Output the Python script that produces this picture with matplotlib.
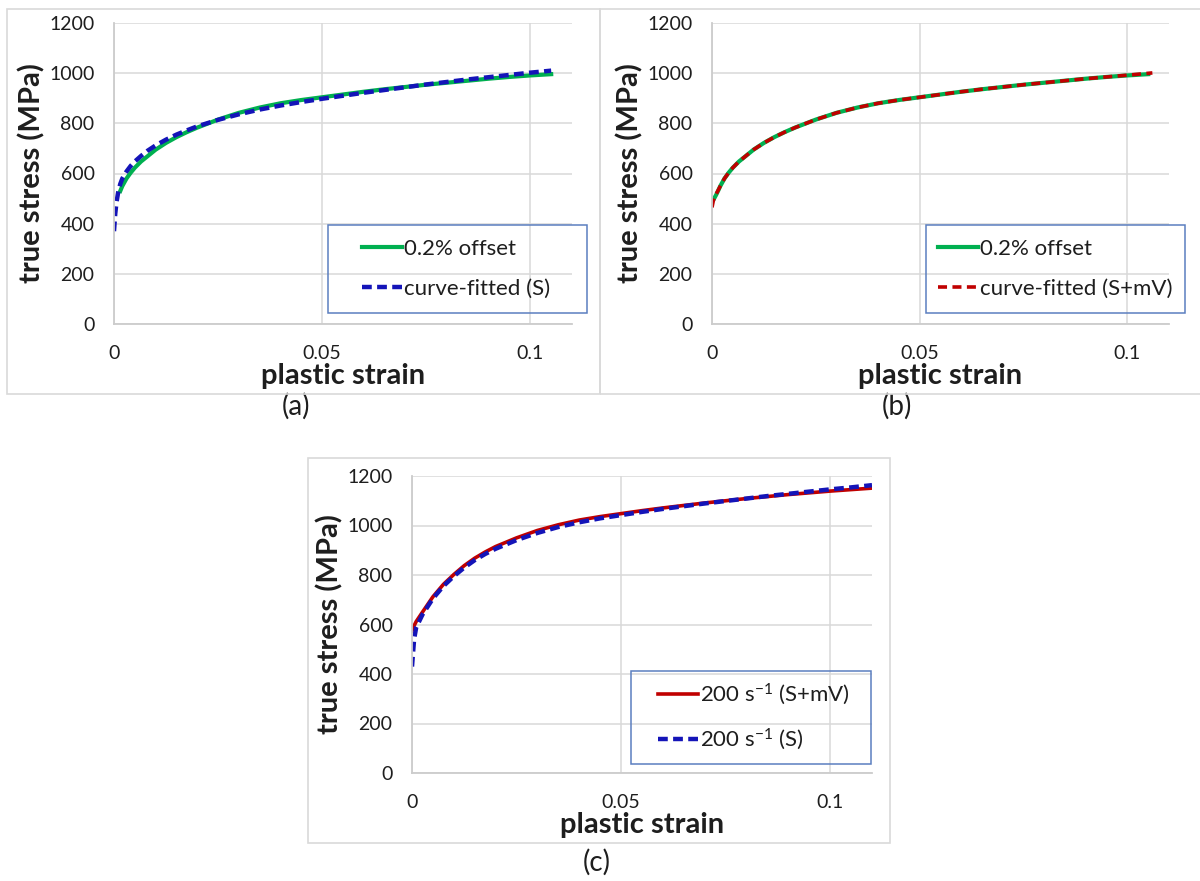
import matplotlib
matplotlib.use("Agg")
import matplotlib.pyplot as plt
from matplotlib.patches import Rectangle

plt.rcParams['font.family'] = ['Lato', 'DejaVu Sans']
plt.rcParams['mathtext.default'] = 'regular'

# ---------------- data ----------------
# (a)
a_offset_strain = [0.0015, 0.002, 0.003, 0.004, 0.005, 0.0065, 0.008, 0.01, 0.0125, 0.015,
                   0.0175, 0.02, 0.025, 0.03, 0.035, 0.04, 0.045, 0.05, 0.055, 0.06, 0.065,
                   0.07, 0.075, 0.08, 0.085, 0.09, 0.095, 0.1, 0.105]
a_offset_stress = [530, 550, 580, 603, 623, 648, 668, 695, 722, 745,
                   765, 783, 815, 842, 863, 880, 893, 904, 915, 926, 936,
                   945, 954, 962, 970, 978, 985, 991, 996]
a_fit_strain = [0, 0.0003, 0.0006, 0.001, 0.0015, 0.002, 0.003, 0.004, 0.005, 0.0065, 0.008,
                0.01, 0.0125, 0.015, 0.0175, 0.02, 0.025, 0.03, 0.035, 0.04, 0.045, 0.05,
                0.055, 0.06, 0.065, 0.07, 0.075, 0.08, 0.085, 0.09, 0.095, 0.1, 0.105]
a_fit_stress = [370, 440, 485, 525, 558, 580, 608, 630, 648, 670, 690,
                712, 735, 755, 772, 788, 814, 836, 855, 871, 885, 898,
                910, 922, 933, 944, 955, 965, 975, 984, 993, 1002, 1010]
# (b)
b_offset_strain = [0.0005, 0.001, 0.0015, 0.002, 0.003, 0.004, 0.005, 0.0065, 0.008, 0.01,
                   0.0125, 0.015, 0.0175, 0.02, 0.025, 0.03, 0.035, 0.04, 0.045, 0.05, 0.055,
                   0.06, 0.065, 0.07, 0.075, 0.08, 0.085, 0.09, 0.095, 0.1, 0.105]
b_offset_stress = [500, 515, 532, 550, 580, 603, 623, 648, 668, 695,
                   722, 745, 765, 783, 815, 842, 863, 880, 893, 904, 915,
                   926, 936, 945, 954, 962, 970, 978, 985, 991, 996]
b_fit_strain = [0, 0.0003, 0.0006, 0.001, 0.0015, 0.002, 0.003, 0.004, 0.005, 0.0065, 0.008,
                0.01, 0.0125, 0.015, 0.0175, 0.02, 0.025, 0.03, 0.035, 0.04, 0.045, 0.05,
                0.055, 0.06, 0.065, 0.07, 0.075, 0.08, 0.085, 0.09, 0.095, 0.1, 0.106]
b_fit_stress = [465, 490, 505, 518, 534, 550, 580, 603, 623, 648, 668,
                695, 722, 745, 765, 783, 815, 842, 863, 880, 893, 904,
                915, 926, 936, 945, 954, 962, 970, 978, 985, 992, 1001]
# (c)
c_smv_strain = [0, 0.0005, 0.001, 0.0025, 0.005, 0.0075, 0.01, 0.0125, 0.015, 0.0175, 0.02,
                0.025, 0.03, 0.035, 0.04, 0.045, 0.05, 0.055, 0.06, 0.065, 0.07, 0.075,
                0.08, 0.085, 0.09, 0.095, 0.1, 0.105, 0.11]
c_smv_stress = [575, 595, 612, 650, 712, 762, 802, 838, 868, 893, 915,
                950, 980, 1003, 1022, 1036, 1048, 1060, 1071, 1081, 1091, 1100,
                1109, 1117, 1125, 1132, 1139, 1145, 1151]
c_s_strain = [0, 0.0005, 0.001, 0.0025, 0.005, 0.0075, 0.01, 0.0125, 0.015, 0.0175, 0.02,
              0.025, 0.03, 0.035, 0.04, 0.045, 0.05, 0.055, 0.06, 0.065, 0.07, 0.075,
              0.08, 0.085, 0.09, 0.095, 0.1, 0.105, 0.11]
c_s_stress = [430, 540, 588, 640, 705, 755, 795, 830, 860, 885, 906,
              941, 970, 994, 1013, 1029, 1042, 1055, 1067, 1078, 1089, 1099,
              1109, 1119, 1128, 1137, 1146, 1154, 1163]

y_ticks = [0, 200, 400, 600, 800, 1000, 1200]
x_ticks = [0, 0.05, 0.1]
x_ticklabels = ["0", "0.05", "0.1"]

GREEN = '#00B050'
BLUE = '#1414B8'
RED = '#C00000'
GRID = '#D9D9D9'
LEGEND_EDGE = '#5B7FC0'
TEXT = '#1E1E1E'

W, H = 1200, 881
fig = plt.figure(figsize=(W / 100, H / 100), dpi=100)


def fx(px):
    return px / W


def fy(py):
    return 1 - py / H


def frame_box(x0, y0, x1, y1, color, lw):
    fig.patches.append(Rectangle((fx(x0), fy(y1)), fx(x1) - fx(x0), fy(y0) - fy(y1),
                                 transform=fig.transFigure, fill=False,
                                 edgecolor=color, linewidth=lw, zorder=5))


# panel frames
for (x0, y0, x1, y1) in [(7, 9, 600, 394), (600, 9, 1205, 394), (308, 458, 890, 843)]:
    frame_box(x0, y0, x1, y1, GRID, 1.2)


def make_axes(l, r, t, b):
    ax = fig.add_axes([fx(l), fy(b), fx(r) - fx(l), fy(t) - fy(b)])
    ax.set_xlim(0, 0.11)
    ax.set_ylim(0, 1200)
    ax.set_yticks(y_ticks)
    ax.set_xticks(x_ticks)
    ax.set_xticklabels(x_ticklabels)
    ax.grid(True, color=GRID, linewidth=1.1)
    ax.set_axisbelow(True)
    for s in ['top', 'right']:
        ax.spines[s].set_visible(False)
    for s in ['left', 'bottom']:
        ax.spines[s].set_color('#CCCCCC')
        ax.spines[s].set_linewidth(1.3)
    ax.tick_params(length=0, labelsize=14, colors=TEXT)
    ax.tick_params(axis='y', pad=14)
    ax.tick_params(axis='x', pad=15)
    ax.set_ylabel('true stress (MPa)', fontsize=21, fontweight='bold', labelpad=3, color=TEXT)
    ax.set_xlabel('plastic strain', fontsize=21, fontweight='bold', labelpad=1, color=TEXT)
    return ax


def make_legend(handles, labels, box, handle_x, rows_mid_y):
    x0, y0, x1, y1 = box
    frame_box(x0, y0, x1, y1, LEGEND_EDGE, 1.1)
    leg = fig.legend(handles, labels, loc='center left',
                     bbox_to_anchor=(fx(handle_x), fy(rows_mid_y)),
                     bbox_transform=fig.transFigure,
                     fontsize=16, frameon=False, handlelength=1.8,
                     handletextpad=0.1, labelspacing=0.9, borderpad=0,
                     borderaxespad=0)
    for t in leg.get_texts():
        t.set_color(TEXT)
    return leg


# (a)
ax_a = make_axes(114, 572, 23, 324)
la1, = ax_a.plot(a_offset_strain, a_offset_stress, color=GREEN, lw=3, solid_joinstyle='round')
la2, = ax_a.plot(a_fit_strain, a_fit_stress, color=BLUE, lw=3.2, ls=(0, (2.2, 1.2)))
make_legend([la1, la2], ['0.2% offset', 'curve-fitted (S)'], (328, 225, 587, 313), 362, 269)

# (b)
ax_b = make_axes(712, 1169, 23, 324)
lb1, = ax_b.plot(b_offset_strain, b_offset_stress, color=GREEN, lw=3, solid_joinstyle='round')
lb2, = ax_b.plot(b_fit_strain, b_fit_stress, color=RED, lw=2.6, ls=(0, (2.5, 1.5)))
make_legend([lb1, lb2], ['0.2% offset', 'curve-fitted (S+mV)'], (926, 225, 1185, 313), 938, 269)

# (c)
ax_c = make_axes(412, 872, 476, 773)
lc1, = ax_c.plot(c_smv_strain, c_smv_stress, color=RED, lw=2.6, solid_joinstyle='round')
lc2, = ax_c.plot(c_s_strain, c_s_stress, color=BLUE, lw=3.2, ls=(0, (2.2, 1.2)))
make_legend([lc1, lc2], ['200 s$^{-1}$ (S+mV)', '200 s$^{-1}$ (S)'], (631, 671, 871, 764), 658, 717)

# sub-captions
fig.text(fx(296), fy(406), '(a)', fontsize=20, ha='center', va='center', color=TEXT)
fig.text(fx(897), fy(406), '(b)', fontsize=20, ha='center', va='center', color=TEXT)
fig.text(fx(597), fy(862), '(c)', fontsize=20, ha='center', va='center', color=TEXT)

fig.savefig('out.png', dpi=100)
